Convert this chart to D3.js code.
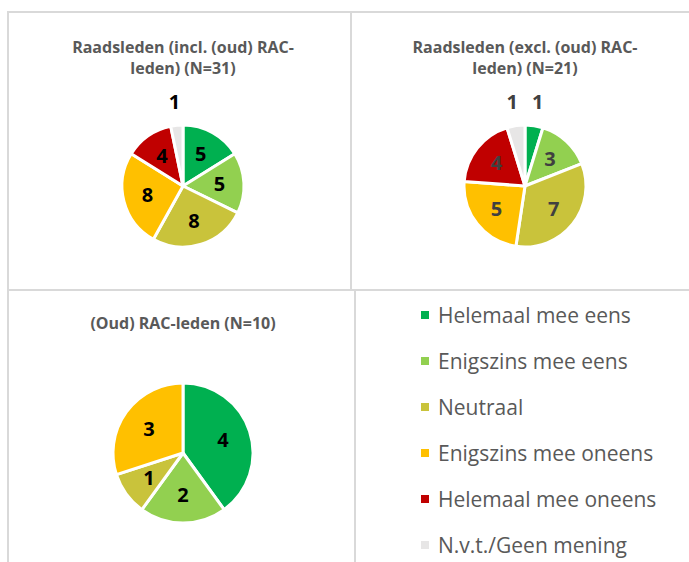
<!DOCTYPE html>
<html>
<head>
<meta charset="utf-8">
<script src="https://cdn.jsdelivr.net/npm/d3@7"></script>
<style>
  body { margin: 0; background: #fff; }
  svg { display: block; }
</style>
</head>
<body>
<script>
// answer categories, in legend order
var categories = ['Helemaal mee eens', 'Enigszins mee eens', 'Neutraal', 'Enigszins mee oneens', 'Helemaal mee oneens', 'N.v.t./Geen mening']
var colors = ['#00B050', '#92D050', '#C9C33B', '#FFC000', '#C00000', '#E7E6E6']

// counts per group
var raadsledenIncl = [5, 5, 8, 8, 4, 1]
var raadsledenExcl = [1, 3, 7, 5, 4, 1]
var racLeden = [4, 2, 1, 3, 0, 0]

var titleIncl = ['Raadsleden (incl. (oud) RAC-', 'leden) (N=31)']
var titleExcl = ['Raadsleden (excl. (oud) RAC-', 'leden) (N=21)']
var titleRac = ['(Oud) RAC-leden (N=10)']

var width = 689
var height = 562

var svg = d3.select('body').append('svg')
    .attr('width', width)
    .attr('height', height)

// panel borders
var borderColor = '#d9d9d9'
var panels = [
    { x: 8, y: 12, w: 343, h: 278 },
    { x: 351, y: 12, w: 345, h: 278 },
    { x: 8, y: 290, w: 347, h: 280 },
    { x: 355, y: 290, w: 340, h: 280 }
]
panels.forEach(function(p) {
    svg.append('rect')
        .attr('x', p.x).attr('y', p.y)
        .attr('width', p.w).attr('height', p.h)
        .attr('fill', 'none')
        .attr('stroke', borderColor)
        .attr('stroke-width', 2)
})

var pie = d3.pie().sort(null).value(d => d)

function drawPie(values, title, cx, cy, radius, titleY, labelColor) {
    var g = svg.append('g')

    title.forEach(function(line, i) {
        g.append('text')
            .attr('x', cx)
            .attr('y', titleY + i * 21)
            .attr('text-anchor', 'middle')
            .style('font-family', 'Open Sans')
            .style('font-weight', 'bold')
            .style('font-size', '16px')
            .style('fill', '#595959')
            .text(line)
    })

    var total = d3.sum(values)
    var arcs = pie(values)
    var arc = d3.arc().innerRadius(0).outerRadius(radius)

    var pieG = g.append('g').attr('transform', 'translate(' + cx + ',' + cy + ')')

    pieG.selectAll('path')
        .data(arcs.filter(d => d.value > 0))
        .enter()
        .append('path')
            .attr('d', arc)
            .attr('fill', d => colors[d.index])
            .attr('stroke', '#fff')
            .attr('stroke-width', 3)
            .attr('stroke-linejoin', 'round')

    // small slices get their label outside the pie
    pieG.selectAll('text')
        .data(arcs.filter(d => d.value > 0))
        .enter()
        .append('text')
            .attr('transform', function(d) {
                var a = (d.startAngle + d.endAngle) / 2
                var small = d.value / total < 0.06
                var r = small ? radius + 24 : radius * 0.6
                return 'translate(' + (Math.sin(a) * r) + ',' + (-Math.cos(a) * r) + ')'
            })
            .attr('text-anchor', 'middle')
            .attr('dy', '0.36em')
            .style('font-family', 'Open Sans')
            .style('font-weight', 'bold')
            .style('font-size', '20px')
            .style('fill', labelColor)
            .text(d => d.value)
}

drawPie(raadsledenIncl, titleIncl, 183, 186, 61, 53, '#000')
drawPie(raadsledenExcl, titleExcl, 525, 186, 61, 53, '#404040')
drawPie(racLeden, titleRac, 183, 453, 70, 329, '#000')

// legend
var legend = svg.append('g').attr('transform', 'translate(421, 315)')
categories.forEach(function(label, i) {
    var row = legend.append('g').attr('transform', 'translate(0,' + (i * 46) + ')')
    row.append('rect')
        .attr('x', 0).attr('y', -4)
        .attr('width', 8).attr('height', 8)
        .attr('fill', colors[i])
    row.append('text')
        .attr('x', 17)
        .attr('dy', '0.36em')
        .style('font-family', 'Open Sans')
        .style('font-size', '21px')
        .style('fill', '#595959')
        .text(label)
})
</script>
</body>
</html>
